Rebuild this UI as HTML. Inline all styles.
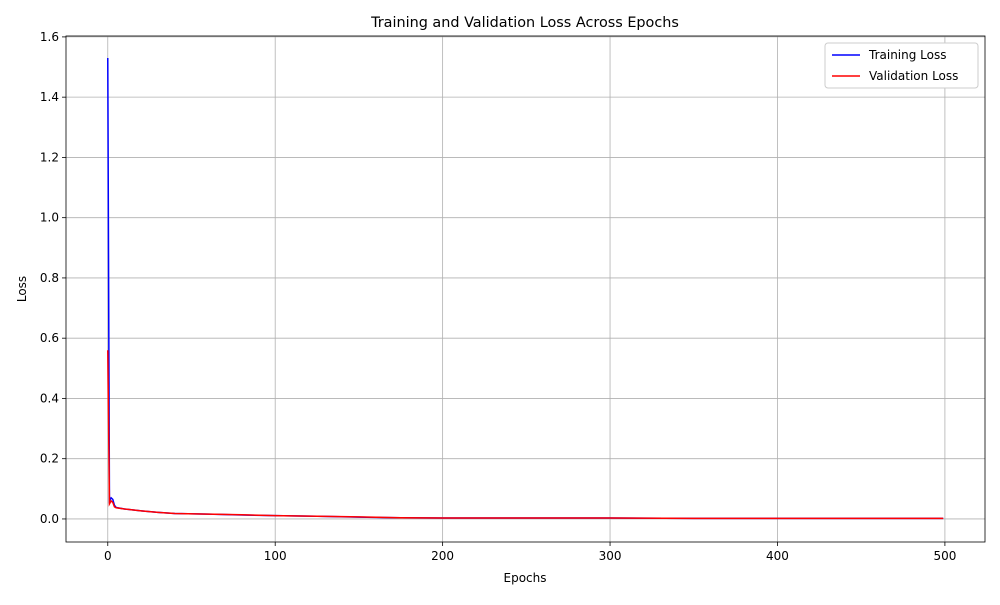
<!DOCTYPE html>
<html><head><meta charset="utf-8"><style>
body{margin:0;background:#fff;font-family:"Liberation Sans","DejaVu Sans",sans-serif}
text{font-family:"DejaVu Sans","Liberation Sans",sans-serif}
</style></head><body>
<svg id="chart" width="1000" height="600"></svg>
<script>
const epochs=[0,1,2,3,4,5,10,20,30,40,60,80,100,125,150,175,200,250,300,350,400,450,499];
const trainLoss=[1.53,0.06,0.07,0.065,0.045,0.038,0.033,0.027,0.022,0.018,0.016,0.013,0.011,0.009,0.006,0.004,0.003,0.003,0.003,0.002,0.002,0.002,0.002];
const valLoss=[0.56,0.05,0.06,0.055,0.04,0.037,0.033,0.027,0.022,0.018,0.016,0.014,0.011,0.009,0.007,0.004,0.003,0.003,0.003,0.002,0.002,0.002,0.002];
const xTicks=[0,100,200,300,400,500];
const yTicks=[0,0.2,0.4,0.6,0.8,1.0,1.2,1.4,1.6];
const L=66,R=985,T=36,B=542,xMin=-24.95,xMax=523.95,yMin=-0.0765,yMax=1.603;
const sx=v=>L+(v-xMin)/(xMax-xMin)*(R-L);
const sy=v=>B-(v-yMin)/(yMax-yMin)*(B-T);
const svg=document.getElementById('chart');const NS='http://www.w3.org/2000/svg';
function mk(t,a,p){const e=document.createElementNS(NS,t);for(const k in a)e.setAttribute(k,a[k]);(p||svg).appendChild(e);return e;}
xTicks.forEach(v=>{const x=sx(v);
const g=mk('line',{x1:x,x2:x,y1:T,y2:B,stroke:'#b0b0b0','stroke-width':0.8});

mk('line',{x1:x,x2:x,y1:B,y2:B+4,stroke:'#000','stroke-width':0.8});
const t=mk('text',{x:x,y:B+18,'text-anchor':'middle','font-size':12});t.textContent=v;
});
yTicks.forEach(v=>{const y=sy(v);
const g=mk('line',{x1:L,x2:R,y1:y,y2:y,stroke:'#b0b0b0','stroke-width':0.8});

mk('line',{x1:L-4,x2:L,y1:y,y2:y,stroke:'#000','stroke-width':0.8});
const t=mk('text',{x:L-7,y:y+4,'text-anchor':'end','font-size':12});t.textContent=v.toFixed(1);
});
function line(vals,c,n){const p=mk('polyline',{points:epochs.map((e,i)=>sx(e)+','+sy(vals[i])).join(' '),fill:'none',stroke:c,'stroke-width':1.5});
}
line(trainLoss,'#0000ff','training-loss-line');
line(valLoss,'#ff0000','validation-loss-line');
const f=mk('rect',{x:L,y:T,width:R-L,height:B-T,fill:'none',stroke:'#000','stroke-width':0.8});

let t=mk('text',{x:525,y:27,'text-anchor':'middle','font-size':14.4});t.textContent='Training and Validation Loss Across Epochs';

t=mk('text',{x:525,y:582,'text-anchor':'middle','font-size':12});t.textContent='Epochs';

t=mk('text',{x:0,y:0,'text-anchor':'middle','font-size':12,transform:'translate(26,289) rotate(-90)'});t.textContent='Loss';

const lg=mk('g',{});
mk('rect',{x:825,y:43,width:153,height:45,rx:3,fill:'#fff',stroke:'#ccc','stroke-width':1},lg);
[['Training Loss','#0000ff',55],['Validation Loss','#ff0000',76]].forEach(([n,c,y])=>{
const g=mk('g',{},lg);
mk('line',{x1:832,x2:860,y1:y,y2:y,stroke:c,'stroke-width':1.5},g);
const tt=mk('text',{x:869,y:y+4,'font-size':12},g);tt.textContent=n;});
</script>
</body></html>
